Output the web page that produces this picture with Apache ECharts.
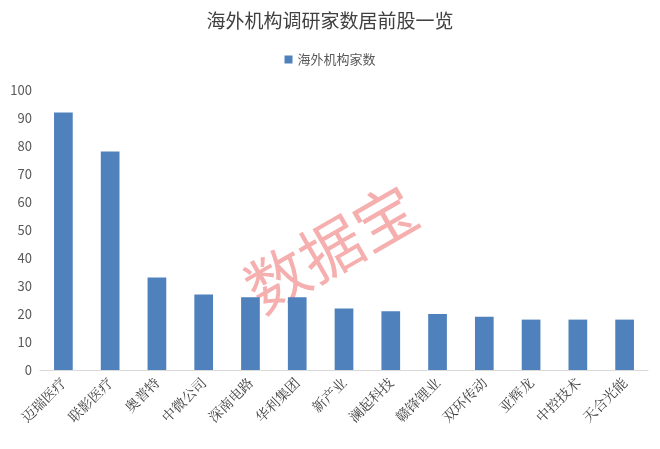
<!DOCTYPE html>
<html>
<head>
<meta charset="utf-8">
<script src="https://cdn.jsdelivr.net/npm/echarts@6/dist/echarts.min.js"></script>
<style>
  html, body { margin: 0; padding: 0; background: #fff; }
  #chart { width: 660px; height: 449px; }
</style>
</head>
<body>
<div id="chart"></div>
<script>
const categories = ['迈瑞医疗', '联影医疗', '奥普特', '中微公司', '深南电路', '华利集团', '新产业',
  '澜起科技', '赣锋锂业', '双环传动', '亚辉龙', '中控技术', '天合光能'];
const values = [92, 78, 33, 27, 26, 26, 22, 21, 20, 19, 18, 18, 18];
const seriesName = '海外机构家数';

const chart = echarts.init(document.getElementById('chart'));
const font = '"Noto Sans CJK SC", sans-serif';

chart.setOption({
  animation: false,
  title: {
    text: '海外机构调研家数居前股一览',
    left: 'center',
    top: 6,
    textStyle: { fontSize: 19, fontWeight: 'normal', color: '#404040', fontFamily: font }
  },
  legend: {
    top: 48,
    left: 'center',
    icon: 'rect',
    itemWidth: 8,
    itemHeight: 8,
    textStyle: { fontSize: 13, color: '#595959', fontFamily: font },
    data: [seriesName]
  },
  grid: { left: 40, right: 12, top: 90, bottom: 79 },
  xAxis: {
    type: 'category',
    data: categories,
    axisTick: { show: false },
    axisLine: { lineStyle: { color: '#d9d9d9' } },
    axisLabel: { rotate: 45, interval: 0, fontSize: 14, color: '#404040', fontFamily: '"Noto Serif CJK SC", "Noto Sans CJK SC", serif', margin: 10 }
  },
  yAxis: {
    type: 'value',
    min: 0,
    max: 100,
    interval: 10,
    axisLine: { show: false },
    axisTick: { show: false },
    splitLine: { show: false },
    axisLabel: { fontSize: 13, color: '#595959', fontFamily: font }
  },
  series: [{
    name: seriesName,
    type: 'bar',
    data: values,
    barWidth: '40%',
    itemStyle: { color: '#4f81bd' }
  }],
  graphic: [{
    type: 'text',
    left: 235,
    top: 175,
    rotation: Math.PI / 6,
    style: {
      text: '数据宝',
      fontSize: 62,
      fill: 'rgba(238,95,95,0.5)',
      fontFamily: font
    }
  }]
});
</script>
</body>
</html>
